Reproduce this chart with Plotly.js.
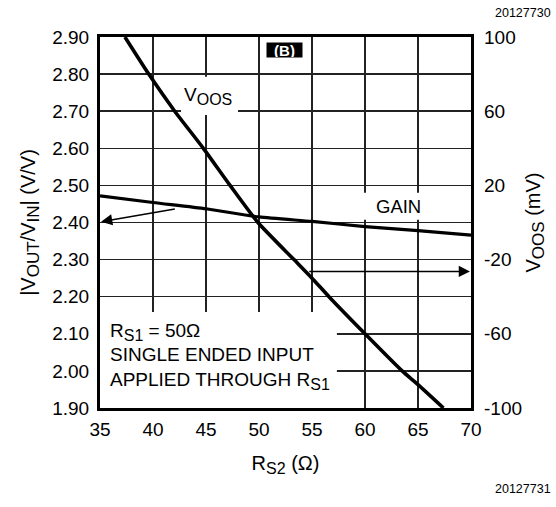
<!DOCTYPE html>
<html>
<head>
<meta charset="utf-8">
<script src="https://cdn.plot.ly/plotly-3.0.1.min.js"></script>
<style>html,body{margin:0;padding:0;background:#fff;}#chart{width:556px;height:507px;}</style>
</head>
<body>
<div id="chart"></div>
<script>
// Data
const rs2Gain = [35, 40, 45, 50, 55, 60, 65, 70];
const gainVV = [2.472, 2.454, 2.437, 2.415, 2.403, 2.389, 2.378, 2.366];
const rs2Voos = [37.35, 39.6, 42.05, 44.75, 47.27, 49.9, 53.3, 55.0, 56.6, 60.0, 63.5, 65.0, 67.4];
const voosMV = [100, 80, 60, 40, 20, 0, -20, -30, -40, -60, -80, -87.4, -100];
const xTicks = [35, 40, 45, 50, 55, 60, 65, 70];
const yTicks = [1.9, 2.0, 2.1, 2.2, 2.3, 2.4, 2.5, 2.6, 2.7, 2.8, 2.9];
const y2Ticks = [-100, -60, -20, 20, 60, 100];
const y2TickLabels = ['-100', '-60', '-20', '20', '60', '100'];

const FONT = 'Liberation Sans, Arial, Helvetica, sans-serif';
const sub = (t, px) => '<sub><span style="font-size:' + px + 'px">' + t + '</span></sub>';

const traces = [
  {x: rs2Gain, y: gainVV, type: 'scatter', mode: 'lines', yaxis: 'y',
   line: {color: '#000', width: 3.2, shape: 'spline', smoothing: 0.6}, hoverinfo: 'skip'},
  {x: rs2Voos, y: voosMV, type: 'scatter', mode: 'lines', yaxis: 'y2',
   line: {color: '#000', width: 3.6, shape: 'spline', smoothing: 0.6}, hoverinfo: 'skip'}
];

const mask = (x0, x1, y0, y1) => ({type: 'rect', xref: 'x', yref: 'y', x0, x1, y0, y1,
  fillcolor: '#fff', line: {width: 0}, layer: 'between'});

const layout = {
  width: 556, height: 507,
  margin: {l: 100, r: 85, t: 37, b: 99, pad: 0},
  paper_bgcolor: '#fff', plot_bgcolor: '#fff',
  showlegend: false,
  font: {family: FONT, color: '#000', size: 19},
  xaxis: {
    range: [35, 70], tickvals: xTicks, ticks: '', showline: true, mirror: true,
    linewidth: 3, linecolor: '#000', showgrid: true, gridcolor: '#222', gridwidth: 1.5,
    zeroline: false, tickfont: {size: 19}, ticklabelstandoff: 2,
    title: {text: 'R' + sub('S2', 16) + ' (Ω)', font: {size: 20}, standoff: 18}
  },
  yaxis: {
    range: [1.9, 2.9], tickvals: yTicks, tickformat: '.2f', ticks: '', showline: true, mirror: true,
    linewidth: 3, linecolor: '#000', showgrid: true, gridcolor: '#222', gridwidth: 1.5,
    zeroline: false, tickfont: {size: 19}, ticklabelstandoff: 4,
    title: {text: '|V' + sub('OUT', 17) + '/V' + sub('IN', 17) + '| (V/V)', font: {size: 20}, standoff: 12}
  },
  yaxis2: {
    range: [-100, 100], tickvals: y2Ticks, ticktext: y2TickLabels, overlaying: 'y', side: 'right', ticks: '',
    showgrid: false, zeroline: false, showline: false, tickfont: {size: 19}, ticklabelstandoff: 12,
    title: {text: 'V' + sub('OOS', 17) + ' (mV)', font: {size: 20}, standoff: 4}
  },
  shapes: [
    mask(42.64, 48.02, 2.69, 2.793),
    mask(59.2, 66.4, 2.4075, 2.48),
    mask(35, 57.35, 1.9, 2.159)
  ],
  annotations: [
    {text: '<b>(B)</b>', x: 52.37, y: 2.864, xref: 'x', yref: 'y', showarrow: false,
     font: {size: 15, color: '#fff', family: FONT}, bgcolor: '#000', width: 35, height: 14, borderpad: 0},
    {text: 'V' + sub('OOS', 16), x: 45.2, y: 2.742, xref: 'x', yref: 'y', showarrow: false,
     font: {size: 19}},
    {text: 'GAIN', x: 63.2, y: 2.4426, xref: 'x', yref: 'y', showarrow: false,
     font: {size: 18.5}},
    {text: 'R' + sub('S1', 16) + ' = 50Ω', x: 35.8, y: 2.106, xref: 'x', yref: 'y', xanchor: 'left',
     showarrow: false, font: {size: 19}},
    {text: 'SINGLE ENDED INPUT', x: 35.8, y: 2.044, xref: 'x', yref: 'y', xanchor: 'left',
     showarrow: false, font: {size: 19}},
    {text: 'APPLIED THROUGH R' + sub('S1', 16), x: 35.8, y: 1.974, xref: 'x', yref: 'y', xanchor: 'left',
     yanchor: 'middle', showarrow: false, font: {size: 19}},
    // arrows
    {text: '', x: 35.1, y: 2.402, xref: 'x', yref: 'y', ax: 42.2, ay: 2.437, axref: 'x', ayref: 'y',
     showarrow: true, arrowhead: 2, arrowsize: 1.4, arrowwidth: 1.6, arrowcolor: '#000', standoff: 0},
    {text: '', x: 69.9, y: -26.4, xref: 'x', yref: 'y2', ax: 54.6, ay: -26.4, axref: 'x', ayref: 'y2',
     showarrow: true, arrowhead: 2, arrowsize: 1.4, arrowwidth: 1.6, arrowcolor: '#000', standoff: 0},
    // figure ids
    {text: '20127730', x: 553, y: 507 - 13, xref: 'paper', yref: 'paper', showarrow: false,
     font: {size: 12.5}, xanchor: 'right', yanchor: 'middle'},
    {text: '20127731', x: 553, y: 507 - 489, xref: 'paper', yref: 'paper', showarrow: false,
     font: {size: 12.5}, xanchor: 'right', yanchor: 'middle'}
  ]
};
// convert the figure-id pixel positions to paper fractions
layout.annotations.forEach(a => {
  if (a.xref === 'paper') {
    const plotW = 556 - 100 - 85, plotH = 507 - 37 - 99;
    a.x = (a.x - 100) / plotW;
    a.y = (a.y - 99) / plotH;
  }
});

Plotly.newPlot('chart', traces, layout, {staticPlot: true, displayModeBar: false});
</script>
</body>
</html>
